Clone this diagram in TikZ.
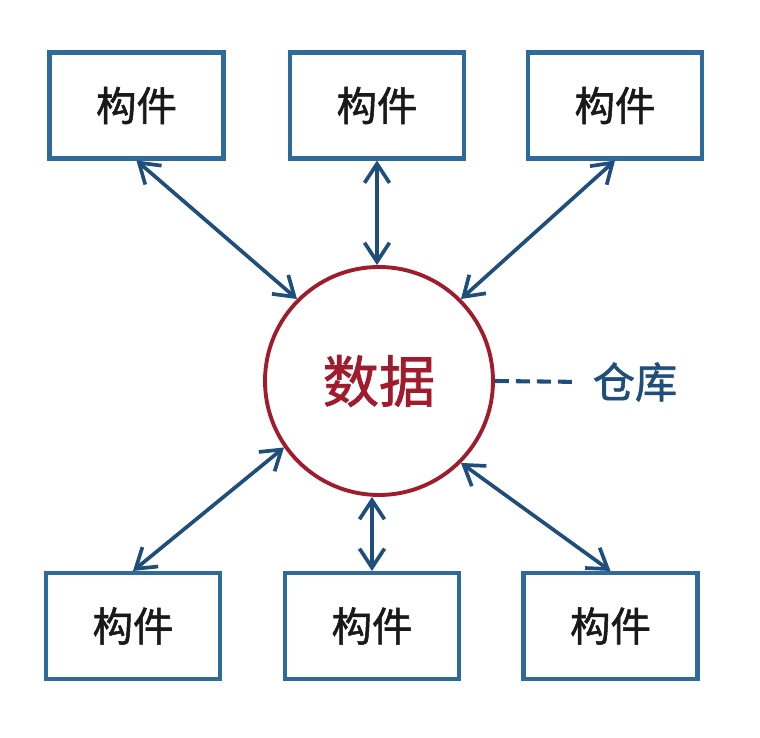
\documentclass[tikz,border=0pt]{standalone}
\usepackage{fontspec}
\usepackage{tikz}
\usetikzlibrary{arrows.meta}
\newfontfamily\cjk[FakeBold=1.3]{Noto Sans CJK SC}
\definecolor{boxblue}{HTML}{2F6B9A}
\definecolor{arrowblue}{HTML}{1F4E7A}
\definecolor{datared}{HTML}{A01C2C}
\tikzset{
every picture/.style={line width=2.1pt,
                       >={Straight Barb[length=3.8mm,width=5mm,line width=2.1pt]}},
%%%%%%%%%%  Node styles
component/.style={draw=boxblue,line width=2.3pt,fill=white,
                  minimum width=3.48cm,minimum height=2.12cm,
                  font=\cjk\fontsize{23}{23}\selectfont,text=black!90},
repository/.style={circle,draw=datared,line width=2.2pt,minimum size=4.56cm,
                   font=\cjk\fontsize{32}{32}\selectfont,text=datared},
storelabel/.style={font=\cjk\fontsize{24}{24}\selectfont,text=arrowblue},
%%%% different line styles:
link/.style={<->,draw=arrowblue},
storeline/.style={draw=arrowblue,line width=2.3pt,
                  dash pattern=on 0.28cm off 0.14cm,shorten >=0.24cm}
}

\begin{document}
\begin{tikzpicture}
\useasboundingbox (0,0) rectangle (15.2,14.76);
\node[repository] (data) at (7.58,7.14) {数据};
\node[component] (tl) at (2.73,12.65) {构件};
\node[component] (tm) at (7.54,12.65) {构件};
\node[component] (tr) at (12.30,12.65) {构件};
\node[component] (bl) at (2.66,2.24) {构件};
\node[component] (bm) at (7.44,2.24) {构件};
\node[component] (br) at (12.21,2.24) {构件};
\node[storelabel] (store) at (12.70,7.12) {仓库};
%%%% connectors
\draw[link] (tl.south) -- (data.135);
\draw[link] (tm.south) -- (tm.south |- data.north);
\draw[link] (tr.south) -- (data.45);
\draw[link] (bl.north) -- (data.215);
\draw[link] (bm.north) -- (bm.north |- data.south);
\draw[link] (br.north) -- (data.-45);
\draw[storeline] (data.east) -- (store.west);
\end{tikzpicture}
\end{document}
